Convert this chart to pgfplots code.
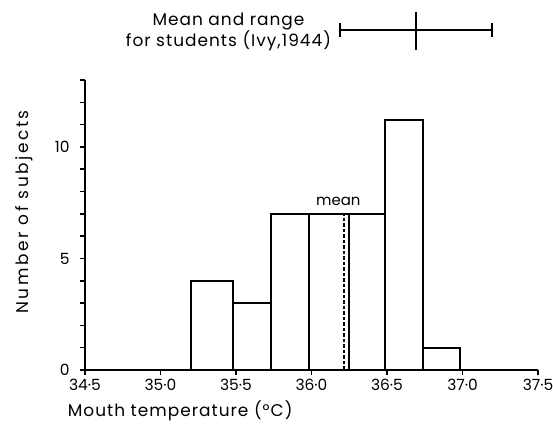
\documentclass[border=0pt]{standalone}
\usepackage{fontspec}
\setmainfont{Poppins}
\usepackage{pgfplots}
\pgfplotsset{compat=1.18}
\newcommand{\lf}{\fontsize{17}{21}\selectfont}
\newcommand{\tf}{\fontsize{15.5}{19}\selectfont}
\newcommand{\mf}{\fontsize{15}{18}\selectfont}
\newfontfamily\spaced[LetterSpace=15]{Poppins}
\newfontfamily\lspaced[LetterSpace=6]{Poppins}
\begin{document}%
\begin{tikzpicture}
\useasboundingbox (0,0) rectangle (553bp,427bp);
\begin{axis}[
  at={(85bp,57bp)}, anchor=south west,
  scale only axis,
  width=453bp, height=290bp,
  xmin=34.5, xmax=37.5, ymin=0, ymax=13,
  axis lines=left,
  axis line style={-, line width=1.8bp},
  clip=false,
  tick align=outside,
  major tick length=5bp, minor tick length=5bp,
  every tick/.style={black, line width=1.5bp},
  xtick={34.5,35,35.5,36,36.5,37,37.5},
  xticklabels={34·5,35·0,35·5,36·0,36·5,37·0,37·5},
  ytick={0,5,10},
  yticklabels={0,5,10},
  minor ytick={1,2,3,4,6,7,8,9,11,12,13},
  tick label style={font=\tf},
  xticklabel style={yshift=-1bp},
  yticklabel style={xshift=-7bp},
  xlabel={\lspaced Mouth temperature (°C)},
  ylabel={\spaced Number of subjects},
  xlabel style={font=\lf, at={(axis description cs:0.21,-0.141)}, anchor=center},
  ylabel style={font=\lf, at={(axis description cs:-0.135,0.545)}, anchor=center, rotate=0},
]
\addplot[ybar interval, fill=white, draw=black, line width=2bp] coordinates {
  (35.2,4) (35.48,3) (35.73,7) (35.985,7) (36.25,7) (36.485,11.2) (36.74,1) (36.985,1)
};
\addplot[black, line width=1.8bp, dash pattern=on 3.5bp off 2bp] coordinates {(36.215,0) (36.215,7)};
\node[font=\mf] at (axis cs:36.178,7.55) {mean};
% Ivy (1944) mean and range
\addplot[black, line width=2bp] coordinates {(36.19,15.24) (37.195,15.24)};
\addplot[black, line width=2bp] coordinates {(36.19,14.94) (36.19,15.54)};
\addplot[black, line width=2bp] coordinates {(37.195,14.94) (37.195,15.54)};
\addplot[black, line width=2bp] coordinates {(36.695,14.35) (36.695,16.07)};
\node[font=\lf, align=center, inner sep=0pt] at (axis cs:35.45,15.14) {\lspaced Mean and range\\\lspaced for students (Ivy,1944)};
\end{axis}
\end{tikzpicture}%
\end{document}
